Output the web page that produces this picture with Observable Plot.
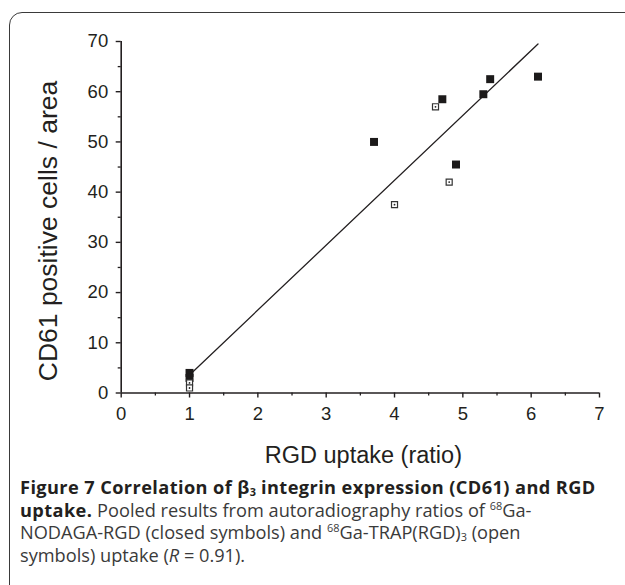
<!DOCTYPE html>
<html><head><meta charset="utf-8">
<script src="https://cdn.jsdelivr.net/npm/d3@7"></script>
<script src="https://cdn.jsdelivr.net/npm/@observablehq/plot@0.6"></script>
<style>
html,body{margin:0;padding:0;width:625px;height:585px;overflow:hidden;background:#fff;}
#frame{position:absolute;left:9px;top:12px;width:640px;height:640px;border:1.6px solid #3a3a3a;border-radius:13px;box-sizing:border-box;}
#chart{position:absolute;left:0;top:0;}
#caption{position:absolute;left:20px;top:476px;font-family:"Open Sans";font-size:18.2px;line-height:22.5px;color:#3a3a3a;white-space:nowrap;}
#caption b{color:#231f20;letter-spacing:0.4px;}
#caption sup,#caption sub{font-size:0.6em;line-height:0;position:relative;vertical-align:baseline;letter-spacing:0;}
#caption sup{top:-0.6em;}
#caption sub{top:0.15em;}
</style></head><body>
<div id="frame"></div>
<div id="chart"></div>
<div id="caption"><b>Figure 7 Correlation of β<sub>3</sub> integrin expression (CD61) and RGD</b><br><b>uptake.</b> Pooled results from autoradiography ratios of <sup>68</sup>Ga-<br>NODAGA-RGD (closed symbols) and <sup>68</sup>Ga-TRAP(RGD)<sub>3</sub> (open<br>symbols) uptake (<i>R</i> = 0.91).</div>
<script>
// closed symbols: 68Ga-NODAGA-RGD
const closedX = [1, 1, 3.7, 4.7, 4.9, 5.3, 5.4, 6.1];
const closedY = [4, 3, 50, 58.5, 45.5, 59.5, 62.5, 63];
// open symbols: 68Ga-TRAP(RGD)3
const openX = [1, 1, 4.0, 4.6, 4.8];
const openY = [2, 1, 37.5, 57, 42];
// regression line endpoints
const fitX = [1, 6.1];
const fitY = [3.6, 69.5];
const xTicks = [0, 1, 2, 3, 4, 5, 6, 7];
const xMinor = [0.5, 1.5, 2.5, 3.5, 4.5, 5.5, 6.5];
const yTicks = [0, 10, 20, 30, 40, 50, 60, 70];
const yMinor = [5, 15, 25, 35, 45, 55, 65];
const xLabel = "RGD uptake (ratio)";
const yLabel = "CD61 positive cells / area";

const closed = closedX.map((x, i) => ({x, y: closedY[i]}));
const open = openX.map((x, i) => ({x, y: openY[i]}));
const fit = fitX.map((x, i) => ({x, y: fitY[i]}));
const ink = "#231f20";

const chart = Plot.plot({
  width: 625, height: 470,
  marginLeft: 120.7, marginRight: 26, marginTop: 41, marginBottom: 77.5,
  x: {domain: [0, 7]},
  y: {domain: [0, 70]},
  style: {fontFamily: "Liberation Sans", background: "transparent", color: ink},
  marks: [
    Plot.axisX({ticks: xTicks, tickSize: 5, tickPadding: 9, fontSize: 18.5, tickFormat: d => String(d), label: null, strokeWidth: 1.4}),
    Plot.axisX({ticks: xMinor, tickSize: 3, tickFormat: () => "", label: null, strokeWidth: 1.3}),
    Plot.axisY({ticks: yTicks, tickSize: 5, tickPadding: 8, fontSize: 18.5, tickFormat: d => String(d), label: null, strokeWidth: 1.4}),
    Plot.axisY({ticks: yMinor, tickSize: 3, tickFormat: () => "", label: null, strokeWidth: 1.3}),
    Plot.ruleY([0], {stroke: ink, strokeWidth: 1.6}),
    Plot.ruleX([0], {stroke: ink, strokeWidth: 1.6}),
    Plot.line(fit, {x: "x", y: "y", stroke: ink, strokeWidth: 1.3}),
    Plot.dot(closed, {x: "x", y: "y", symbol: "square", r: 4.5, fill: "#1c1a1a", stroke: "none"}),
    Plot.dot(open, {x: "x", y: "y", symbol: "square", r: 3.4, fill: "white", stroke: "#333", strokeWidth: 1.2}),
    Plot.dot(open, {x: "x", y: "y", r: 0.9, fill: "#222", stroke: "none"}),
    Plot.text([xLabel], {frameAnchor: "bottom", textAnchor: "middle", lineAnchor: "bottom", dy: 69.5, dx: 3, fontSize: 23.5, fill: ink}),
    Plot.text([yLabel], {frameAnchor: "left", textAnchor: "middle", lineAnchor: "bottom", rotate: -90, dx: -63.7, dy: 13.75, fontSize: 26.5, fill: ink})
  ]
});
document.getElementById("chart").appendChild(chart);
</script>
</body></html>
